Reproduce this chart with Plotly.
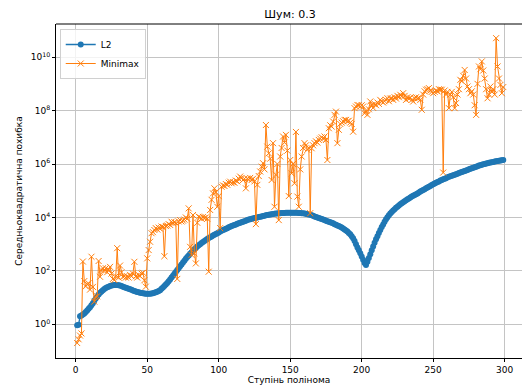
import plotly.graph_objects as go

degrees = list(range(1, 300))

# L2 error, log10 values
l2_log10 = [
    -0.03, -0.02, 0.30, 0.33, 0.37, 0.41, 0.46, 0.52, 0.58, 0.64,
    0.71, 0.79, 0.88, 0.97, 1.05, 1.12, 1.18, 1.23, 1.28, 1.32,
    1.36, 1.39, 1.41, 1.43, 1.45, 1.46, 1.47, 1.47, 1.47, 1.46,
    1.45, 1.43, 1.41, 1.39, 1.37, 1.35, 1.33, 1.31, 1.29, 1.27,
    1.25, 1.23, 1.21, 1.20, 1.18, 1.17, 1.16, 1.15, 1.14, 1.14,
    1.14, 1.14, 1.15, 1.16, 1.18, 1.20, 1.22, 1.25, 1.28, 1.33,
    1.38, 1.43, 1.49, 1.55, 1.61, 1.68, 1.75, 1.82, 1.89, 1.96,
    2.03, 2.10, 2.17, 2.24, 2.31, 2.38, 2.45, 2.52, 2.58, 2.64,
    2.70, 2.76, 2.81, 2.86, 2.91, 2.96, 3.00, 3.04, 3.08, 3.12,
    3.16, 3.19, 3.23, 3.26, 3.29, 3.32, 3.35, 3.38, 3.41, 3.44,
    3.47, 3.50, 3.53, 3.55, 3.58, 3.60, 3.63, 3.65, 3.68, 3.70,
    3.72, 3.74, 3.76, 3.78, 3.80, 3.82, 3.84, 3.86, 3.88, 3.90,
    3.92, 3.93, 3.95, 3.96, 3.98, 3.99, 4.00, 4.02, 4.03, 4.04,
    4.05, 4.06, 4.08, 4.09, 4.10, 4.11, 4.12, 4.13, 4.14, 4.15,
    4.15, 4.16, 4.16, 4.17, 4.17, 4.17, 4.18, 4.18, 4.18, 4.18,
    4.18, 4.18, 4.18, 4.18, 4.18, 4.17, 4.17, 4.16, 4.16, 4.15,
    4.14, 4.12, 4.11, 4.10, 4.08, 4.06, 4.04, 4.02, 4.00, 3.98,
    3.96, 3.94, 3.92, 3.90, 3.88, 3.86, 3.84, 3.82, 3.80, 3.78,
    3.75, 3.73, 3.70, 3.68, 3.65, 3.62, 3.59, 3.55, 3.51, 3.47,
    3.42, 3.37, 3.30, 3.22, 3.12, 3.00, 2.88, 2.77, 2.66, 2.54,
    2.42, 2.30, 2.22, 2.34, 2.48, 2.62, 2.77, 2.91, 3.05, 3.18,
    3.30, 3.42, 3.53, 3.64, 3.74, 3.84, 3.93, 4.01, 4.08, 4.15,
    4.20, 4.26, 4.31, 4.36, 4.40, 4.45, 4.49, 4.53, 4.57, 4.61,
    4.64, 4.68, 4.71, 4.75, 4.78, 4.81, 4.84, 4.87, 4.90, 4.93,
    4.97, 5.00, 5.03, 5.06, 5.09, 5.12, 5.15, 5.18, 5.21, 5.24,
    5.27, 5.30, 5.33, 5.35, 5.38, 5.40, 5.43, 5.45, 5.47, 5.50,
    5.52, 5.54, 5.56, 5.58, 5.60, 5.62, 5.64, 5.66, 5.68, 5.70,
    5.72, 5.74, 5.76, 5.78, 5.80, 5.82, 5.84, 5.86, 5.88, 5.90,
    5.92, 5.94, 5.95, 5.97, 5.99, 6.00, 6.02, 6.03, 6.05, 6.06,
    6.07, 6.08, 6.09, 6.10, 6.11, 6.12, 6.13, 6.14, 6.15,
]

# Minimax error, log10 values
minimax_log10 = [
    -0.70, -0.56, -0.42, -0.34, 2.35, 1.62, 1.42, 1.50, 1.53, 1.30,
    2.53, 1.40, 0.85, 1.03, 1.05, 2.37, 1.78, 2.03, 2.10, 2.00,
    2.10, 1.95, 2.05, 2.15, 1.90, 1.70, 1.66, 1.80, 2.85, 1.75,
    2.20, 1.95, 1.78, 1.80, 1.75, 1.80, 1.75, 1.85, 1.80, 1.90,
    2.34, 1.80, 1.75, 1.85, 1.80, 1.90, 1.93, 1.65, 1.41, 2.47,
    2.78, 3.09, 3.41, 3.45, 3.53, 3.60, 3.55, 3.62, 3.58, 3.66,
    3.64, 2.55, 3.68, 3.70, 3.75, 3.72, 3.84, 3.78, 3.82, 3.80,
    1.70, 3.85, 3.90, 3.85, 3.88, 3.92, 4.00, 3.95, 4.34, 2.90,
    2.60, 4.09, 2.66, 2.28, 3.80, 4.03, 4.00, 3.95, 4.02, 3.98,
    4.00, 3.95, 1.97, 4.28, 4.66, 4.90, 5.09, 4.95, 4.40, 4.80,
    3.60, 5.15, 5.20, 5.18, 5.25, 5.22, 5.30, 5.34, 5.28, 5.32,
    5.30, 5.38, 5.35, 5.45, 5.53, 5.48, 5.40, 5.45, 5.09, 5.45,
    5.42, 5.48, 5.40, 5.45, 5.35, 3.75, 5.22, 5.55, 5.72, 5.90,
    6.03, 5.80, 7.46, 6.65, 6.40, 6.20, 5.40, 6.78, 4.40, 5.60,
    6.00, 3.90, 6.28, 6.60, 7.03, 6.80, 7.09, 6.50, 4.80, 6.15,
    5.65, 6.00, 5.28, 7.20, 4.78, 4.40, 5.80, 6.28, 6.60, 6.78,
    6.70, 6.53, 6.60, 4.16, 6.59, 6.70, 6.78, 6.85, 6.80, 6.90,
    6.95, 7.00, 6.95, 7.03, 6.90, 6.15, 7.34, 7.45, 7.40, 7.59,
    7.84, 7.96, 6.78, 7.28, 7.50, 7.55, 7.60, 7.65, 7.65, 7.60,
    7.62, 7.55, 7.50, 7.21, 8.09, 8.15, 8.21, 8.20, 8.15, 8.20,
    8.15, 7.90, 8.00, 7.84, 8.05, 8.34, 8.20, 8.10, 8.25, 8.20,
    8.30, 8.25, 8.40, 8.34, 8.30, 8.35, 8.40, 8.46, 8.35, 8.45,
    8.46, 8.40, 8.50, 8.45, 8.55, 8.50, 8.59, 8.53, 8.65, 8.55,
    8.40, 8.50, 8.45, 8.48, 8.40, 8.34, 8.46, 8.50, 8.45, 8.48,
    8.40, 8.03, 8.60, 8.72, 8.78, 8.80, 8.84, 8.75, 8.70, 8.65,
    8.70, 8.75, 8.72, 8.80, 8.78, 8.78, 5.68, 8.75, 8.60, 8.70,
    8.09, 8.60, 8.70, 8.50, 8.09, 8.28, 8.60, 8.80, 9.15, 9.10,
    9.30, 9.52, 9.20, 8.90, 8.80, 8.65, 8.72, 8.60, 8.20, 7.84,
    9.00, 9.65, 9.55, 9.84, 9.50, 9.20, 8.80, 8.46, 8.60, 8.90,
    8.70, 8.80, 8.60, 10.71, 9.65, 9.20, 8.96, 8.65, 8.88,
]

x_ticks = [0, 50, 100, 150, 200, 250, 300]
y_tick_exponents = [0, 2, 4, 6, 8, 10]

title_text = "Шум: 0.3"
x_title = "Ступінь полінома"
y_title = "Середньоквадратична похибка"
series_names = ["L2", "Minimax"]

l2_values = [10 ** v for v in l2_log10]
minimax_values = [10 ** v for v in minimax_log10]

FONT = "DejaVu Sans, sans-serif"
BLUE = "#1f77b4"
ORANGE = "#ff7f0e"

fig = go.Figure()
fig.add_trace(go.Scatter(
    x=degrees, y=l2_values, name=series_names[0], mode="lines+markers",
    line=dict(color=BLUE, width=1.35),
    marker=dict(symbol="circle", size=6, color=BLUE, line=dict(width=0)),
))
fig.add_trace(go.Scatter(
    x=degrees, y=minimax_values, name=series_names[1], mode="lines+markers",
    line=dict(color=ORANGE, width=1),
    marker=dict(symbol="x-thin", size=6, color=ORANGE,
                line=dict(width=1, color=ORANGE)),
))

fig.update_layout(
    width=522, height=385,
    margin=dict(l=56, r=0, t=24, b=27, autoexpand=False),
    paper_bgcolor="white", plot_bgcolor="white",
    font=dict(family=FONT, size=9, color="black"),
    title=dict(text=title_text, x=290 / 522, xanchor="center",
               y=1 - 14 / 385, yanchor="middle",
               font=dict(size=11, color="black", family=FONT)),
    showlegend=True,
    legend=dict(x=0.008, y=0.985, xanchor="left", yanchor="top",
                bgcolor="rgba(255,255,255,0.8)", bordercolor="#d0d0d0",
                borderwidth=1, font=dict(size=9, family=FONT),
                itemwidth=30, tracegroupgap=0),
)

fig.update_xaxes(
    range=[-13.8, 312.1], tickvals=x_ticks,
    ticktext=[str(v) for v in x_ticks],
    showgrid=True, gridcolor="#c4c4c4", gridwidth=1,
    showline=True, linecolor="black", linewidth=1,
    ticks="outside", ticklen=3, tickcolor="black",
    zeroline=False, automargin=False,
    title=dict(text=x_title, standoff=2, font=dict(size=9, family=FONT)),
)
fig.update_yaxes(
    type="log", range=[-1.26, 11.24],
    tickvals=[10 ** e for e in y_tick_exponents],
    ticktext=["10<sup>%d</sup>" % e for e in y_tick_exponents],
    showgrid=True, gridcolor="#c4c4c4", gridwidth=1,
    showline=True, linecolor="black", linewidth=1,
    ticks="outside", ticklen=3, tickcolor="black",
    zeroline=False, automargin=False,
    title=dict(text=y_title, standoff=6, font=dict(size=9, family=FONT)),
)

# top spine of the axes box (right spine lies outside the picture)
fig.add_shape(type="line", xref="paper", yref="paper",
              x0=0, x1=1, y0=1, y1=1,
              line=dict(color="black", width=1))

fig.write_html(
    "out.html",
    config={"displayModeBar": False},
    post_script="document.body.style.margin='0';document.body.style.overflow='hidden';",
)
